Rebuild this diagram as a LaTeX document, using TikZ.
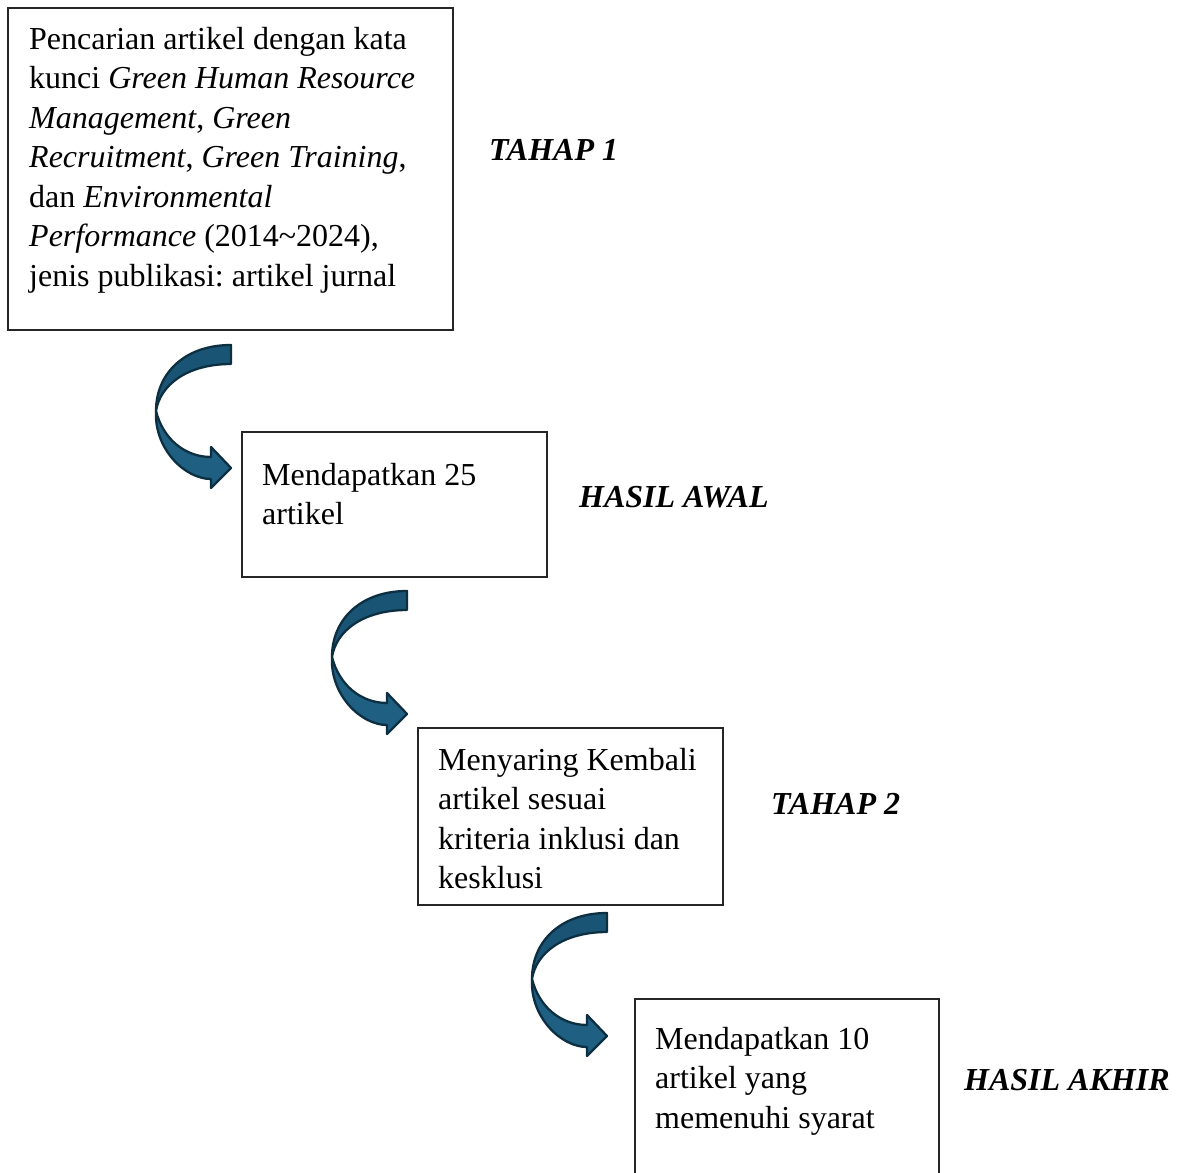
\documentclass[tikz,border=0pt]{standalone}
\usepackage{fontspec}
\setmainfont{Liberation Serif}
\frenchspacing
\definecolor{arrowfill}{HTML}{1F5F82}
\definecolor{arrowdark}{HTML}{1A5475}
\definecolor{arrowline}{HTML}{0D2F42}
\tikzset{
  boxnode/.style={draw=black!85, line width=2pt, inner sep=0pt, rectangle},
  txt/.style={anchor=north west, inner sep=0pt, align=left, font=\fontsize{32}{39.5}\selectfont},
  lbl/.style={anchor=base west, inner sep=0pt, font=\fontsize{32}{39.5}\selectfont\bfseries\itshape},
  curvarrow/.pic={
    \filldraw[fill=arrowdark, draw=arrowline, line width=2.3pt, line join=round]
      (0,0) .. controls (-46,0) and (-75,28) .. (-75,66)
      .. controls (-71,40) and (-44,19) .. (0,19) -- cycle;
    \filldraw[fill=arrowfill, draw=arrowline, line width=2.3pt, line join=round]
      (-75,66) .. controls (-77,104) and (-46,134) .. (-20,134)
      -- (-20,143) -- (0,123) -- (-20,102) -- (-20,112)
      .. controls (-46,112) and (-68,94) .. (-75,66) -- cycle;
  }
}
\begin{document}
\begin{tikzpicture}[x=1pt,y=-1pt]
\useasboundingbox (0,0) rectangle (1179,1173);
\clip (0,0) rectangle (1179,1173);
\fill[white] (0,0) rectangle (1179,1173);
% boxes
\node[boxnode, minimum width=445pt, minimum height=322pt] (b1) at (230.5,169) {};
\node[boxnode, minimum width=305pt, minimum height=145pt] (b2) at (394.5,504.5) {};
\node[boxnode, minimum width=305pt, minimum height=177pt] (b3) at (570.5,816.5) {};
\node[boxnode, minimum width=304pt, minimum height=220pt] (b4) at (787,1109) {};
% texts
\node[txt] (t1) at ([xshift=22pt,yshift=-12pt]b1.north west) {\rule{0pt}{30pt}Pencarian artikel dengan kata\\
kunci \textit{Green Human Resource}\\
\textit{Management}, \textit{Green}\\
\textit{Recruitment}, \textit{Green Training},\\
dan \textit{Environmental}\\
\textit{Performance} (2014\textasciitilde2024),\\
jenis publikasi: artikel jurnal};
\node[txt] (t2) at ([xshift=21pt,yshift=-24pt]b2.north west) {\rule{0pt}{30pt}Mendapatkan 25\\artikel};
\node[txt] (t3) at ([xshift=21pt,yshift=-13pt]b3.north west) {\rule{0pt}{30pt}Menyaring Kembali\\artikel sesuai\\kriteria inklusi dan\\kesklusi};
\node[txt] (t4) at ([xshift=21pt,yshift=-21pt]b4.north west) {\rule{0pt}{30pt}Mendapatkan 10\\artikel yang\\memenuhi syarat};
% labels
\node[lbl] (l1) at (489,160) {TAHAP 1};
\node[lbl] (l2) at (579,507) {HASIL AWAL};
\node[lbl] (l3) at (771,814) {TAHAP 2};
\node[lbl] (l4) at (964,1090) {HASIL AKHIR};
% curved arrows
\pic at (231,345) {curvarrow};
\pic at (407,591) {curvarrow};
\pic at (607,913) {curvarrow};
\end{tikzpicture}
\end{document}
